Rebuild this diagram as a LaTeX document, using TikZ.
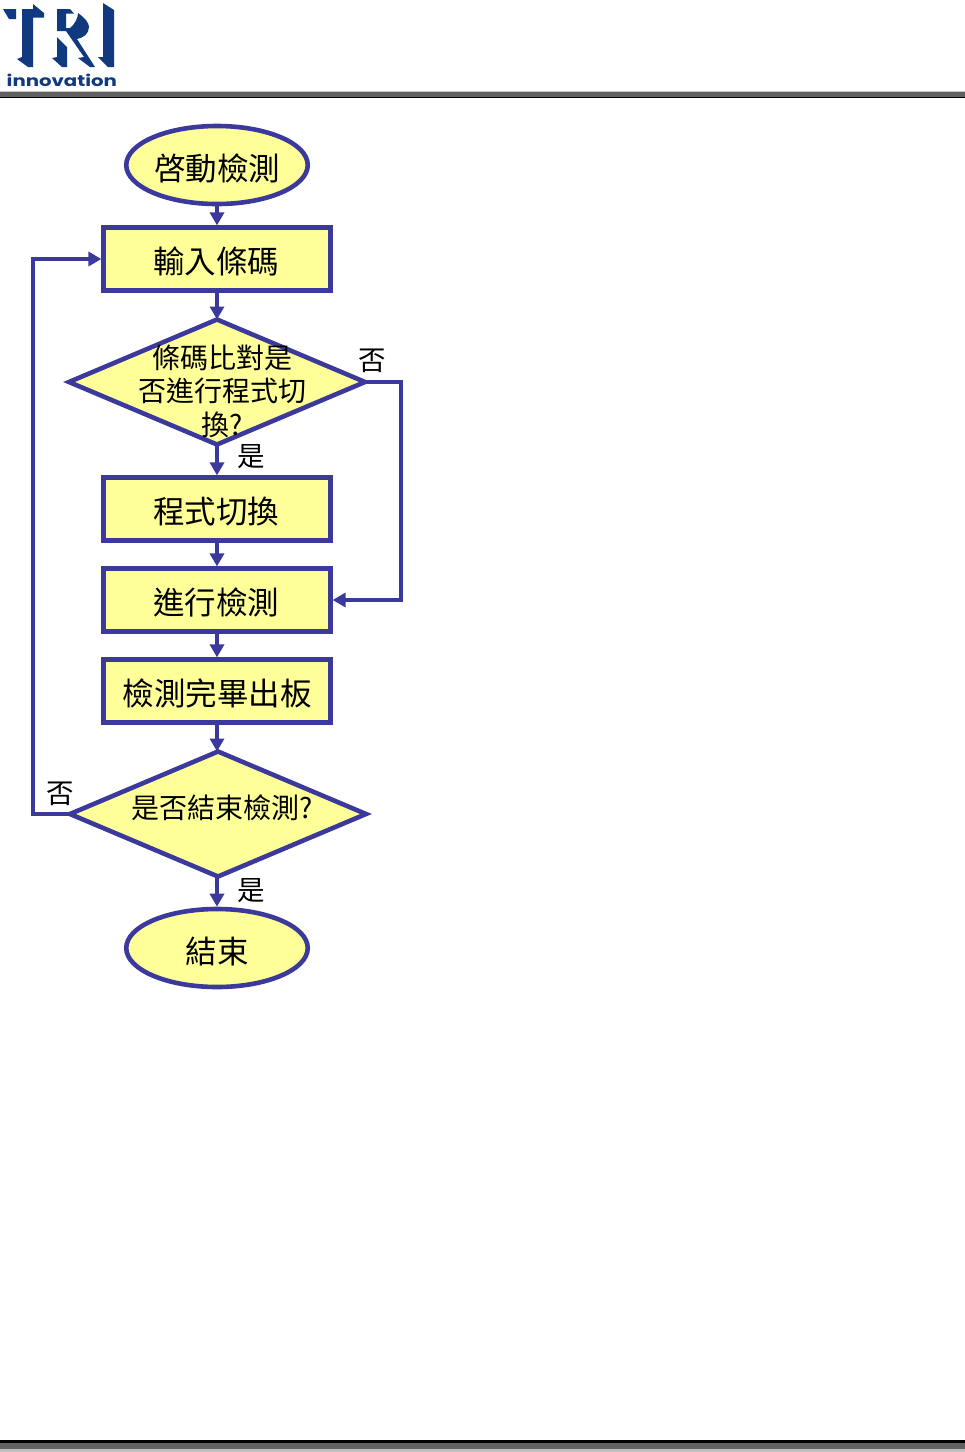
\documentclass[tikz,border=0pt]{standalone}
\usepackage{fontspec}
\usepackage{graphicx}
\usetikzlibrary{shapes.geometric,arrows.meta}
\setmainfont{Noto Sans CJK TC}
\newfontfamily\logofont{Poppins}
\definecolor{edgeblue}{HTML}{3B3A9C}
\definecolor{boxfill}{HTML}{FFFF99}
\definecolor{logoblue}{HTML}{10397F}
\begin{document}
\begin{tikzpicture}[x=1pt,y=-1pt,
  shapeline/.style={draw=edgeblue,line width=4.6pt,fill=boxfill,inner sep=0pt},
  procbox/.style={shapeline,line width=4.2pt,rectangle,minimum width=227pt,minimum height=63pt},
  termin/.style={shapeline,ellipse,minimum width=181.5pt,minimum height=78pt},
  decis/.style={shapeline,diamond,outer sep=0pt,minimum width=296pt,minimum height=125pt,aspect=2.35},
  boxtext/.style={font=\fontsize{31.5}{33}\selectfont,text=black,inner sep=0pt},
  dectext/.style={font=\fontsize{28}{33.5}\selectfont,text=black,inner sep=0pt,align=center},
  lab/.style={font=\fontsize{27.5}{30}\selectfont,text=black,inner sep=0pt},
  flow/.style={draw=edgeblue,line width=4.8pt,-{Stealth[length=13pt,width=14pt,inset=0pt]}},
  logopart/.style={fill=logoblue,draw=none}]
\useasboundingbox (0,0) rectangle (965,1452);
\fill[white] (0,0) rectangle (965,1452);
% header rule
\fill[black!25] (0,91) rectangle (965,92);
\fill[black!62] (0,92) rectangle (965,97);
\fill[black] (0,97) rectangle (965,98);
% footer rule
\fill[black] (0,1440) rectangle (965,1443);
\fill[black!62] (0,1443) rectangle (965,1449);
\fill[black!25] (0,1449) rectangle (965,1452);
% logo
\fill[logopart] (3,9) -- (16,9) -- (16,19) -- (9,19) -- cycle;
\fill[logopart] (22,9) -- (33,9) -- (33,4) -- (44,13) -- (44,17.5) -- (33,17.5) -- (33,67) -- (28,67) -- (17,59) -- (22,57) -- cycle;
\fill[logopart] (57,9) -- (70,9) -- (74,13.5) -- (66,13.5) -- (66,28) -- (70,28) .. controls (75,24) and (78,18) .. (78,13) .. controls (85,18) and (89,23) .. (89,27) .. controls (89,34) and (83,38) .. (77,39) -- (95,67) -- (90,67) -- (78,58) -- (84,57) -- (66,31) -- (57,31) -- cycle;
\fill[logopart] (57,37) -- (67,47) -- (67,67) -- (62,67) -- (52,58) -- (57,57) -- cycle;
\fill[logopart] (103,3) -- (114,10) -- (114,67) -- (108,67) -- (98,57) -- (103,57) -- cycle;
\node[anchor=base west,inner sep=0pt,text=logoblue] (logotext) at (6.5,86)
  {\scalebox{1.27}[1]{\logofont\bfseries\fontsize{15.5}{16}\selectfont innovation}};
% shapes
\node[termin] (start) at (217,165) {};
\node[boxtext] (starttext) at (217,168) {啓動檢測};
\node[procbox] (input) at (217,259) {};
\node[boxtext] (inputtext) at (216,261) {輸入條碼};
\node[decis] (dec1) at (217,382) {};
\node[dectext] (dec1text) at (222,391) {條碼比對是\\否進行程式切\\換?};
\node[procbox] (switch) at (217,509) {};
\node[boxtext] (switchtext) at (216,512) {程式切換};
\node[procbox] (inspect) at (217,600) {};
\node[boxtext] (inspecttext) at (216,602) {進行檢測};
\node[procbox] (output) at (217,691) {};
\node[boxtext] (outputtext) at (217,693) {檢測完畢出板};
\node[decis] (dec2) at (218,814) {};
\node[dectext] (dec2text) at (222,808) {是否結束檢測?};
\node[termin] (finish) at (217,948) {};
\node[boxtext] (finishtext) at (217,951) {結束};
% connector corners
\coordinate (rightTop) at (401,382);
\coordinate (rightBot) at (401,600);
\coordinate (leftBot) at (33,814);
\coordinate (leftTop) at (33,259);
% connectors
\draw[flow] (start) -- (input);
\draw[flow] (input) -- (dec1);
\draw[flow] (dec1) -- (switch);
\draw[flow] (switch) -- (inspect);
\draw[flow] (inspect) -- (output);
\draw[flow] (output) -- (output |- dec2.north);
\draw[flow] (dec2.south -| finish) -- (finish);
\draw[flow] (dec1.east) -- (rightTop) -- (rightBot) -- (inspect.east);
\draw[flow] (dec2.west) -- (leftBot) -- (leftTop) -- (input.west);
% labels
\node[lab] (no1) at (372,361) {否};
\node[lab] (yes1) at (251,457) {是};
\node[lab] (no2) at (60,794) {否};
\node[lab] (yes2) at (251,891) {是};
\end{tikzpicture}
\end{document}
